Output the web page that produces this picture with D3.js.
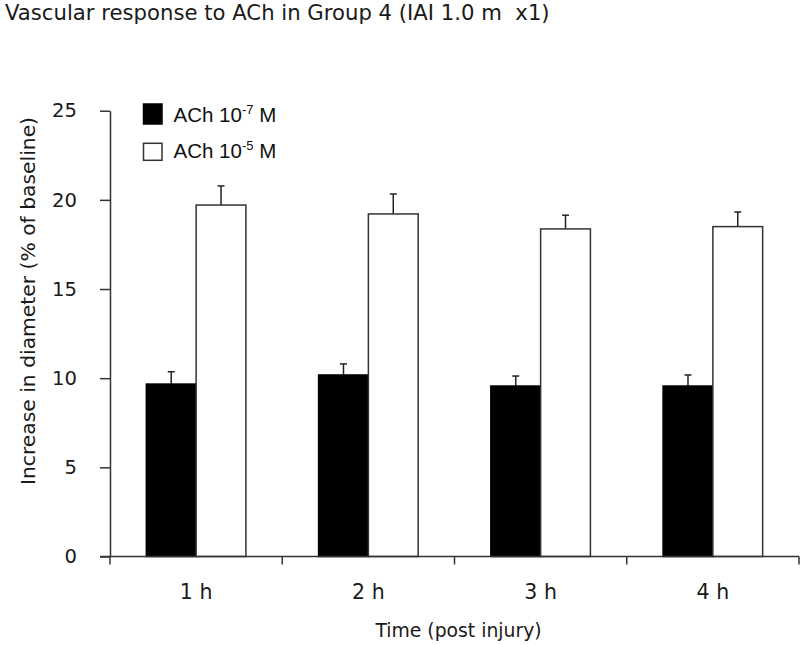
<!DOCTYPE html>
<html>
<head>
<meta charset="utf-8">
<script src="https://cdn.jsdelivr.net/npm/d3@7"></script>
<style>
  html, body { margin: 0; padding: 0; background: #fff; }
  svg { display: block; }
  text { white-space: pre; }
</style>
</head>
<body>
<svg id="chart" width="800" height="645"></svg>
<script>
// ---- data ----
const categories = ["1 h", "2 h", "3 h", "4 h"];
const series = ["ACh 10-7 M", "ACh 10-5 M"];
const seriesExp = ["-7", "-5"];
const ach7 = [9.67, 10.18, 9.56, 9.56];
const ach7Err = [0.69, 0.62, 0.56, 0.62];
const ach5 = [19.71, 19.21, 18.37, 18.5];
const ach5Err = [1.07, 1.12, 0.77, 0.82];
const yTicks = [0, 5, 10, 15, 20, 25];
const titleText = "Vascular response to ACh in Group 4 (IAI 1.0 m  x1)";
const yLabel = "Increase in diameter (% of baseline)";
const xLabel = "Time (post injury)";

const values = [ach7, ach5];
const errors = [ach7Err, ach5Err];
const fills = ["#000000", "#ffffff"];

const svg = d3.select("#chart");
const mainFont = "'DejaVu Sans', 'Open Sans', sans-serif";
const arial = "'Liberation Sans', Arial, sans-serif";
const ink = "#1a1a1a";

const x0 = d3.scaleBand().domain(categories).range([110, 799]).paddingInner(0).paddingOuter(0);
const x1 = d3.scaleBand().domain(series).range([0, x0.bandwidth()]).paddingInner(0).paddingOuter(0.73);
const y = d3.scaleLinear().domain([0, 25]).range([556.5, 110.7]);

// title
svg.append("text").attr("x", 5).attr("y", 20)
  .attr("font-family", mainFont).attr("font-size", 21.2).attr("fill", ink)
  .text(titleText);

// bars
series.forEach((s, si) => {
  const g = svg.append("g");
  categories.forEach((c, ci) => {
    const v = values[si][ci], e = errors[si][ci];
    const bx = x0(c) + x1(s), bw = x1.bandwidth();
    const cx = bx + bw / 2;
    g.append("line").attr("x1", cx).attr("x2", cx)
      .attr("y1", y(v)).attr("y2", y(v + e))
      .attr("stroke", "#222").attr("stroke-width", 1.5);
    g.append("line").attr("x1", cx - 3.5).attr("x2", cx + 3.5)
      .attr("y1", y(v + e)).attr("y2", y(v + e))
      .attr("stroke", "#222").attr("stroke-width", 1.5);
    g.append("rect").attr("x", bx).attr("y", y(v))
      .attr("width", bw).attr("height", y(0) - y(v))
      .attr("fill", fills[si])
      .attr("stroke", si === 0 ? "#000" : "#333").attr("stroke-width", 1.5);
  });
});

// y axis
const yAxis = d3.axisLeft(y).tickValues(yTicks).tickSize(10).tickSizeOuter(0).tickPadding(23);
const yg = svg.append("g").attr("transform", "translate(110,0)").call(yAxis);
yg.select(".domain").attr("stroke", "#333").attr("stroke-width", 1.5);
yg.selectAll(".tick line").attr("stroke", "#333").attr("stroke-width", 1.5);
yg.selectAll(".tick text").attr("font-family", mainFont).attr("font-size", 19.6).attr("fill", ink);

// x axis line + boundary ticks
const xg = svg.append("g");
xg.append("line").attr("x1", 100).attr("x2", x0.range()[1])
  .attr("y1", y(0)).attr("y2", y(0)).attr("stroke", "#333").attr("stroke-width", 1.5);
const bounds = categories.map(c => x0(c)).concat([x0(categories[categories.length - 1]) + x0.bandwidth()]);
xg.selectAll(".xt").data(bounds).enter().append("line")
  .attr("x1", d => d).attr("x2", d => d)
  .attr("y1", y(0)).attr("y2", y(0) + 8)
  .attr("stroke", "#333").attr("stroke-width", 1.5);
xg.selectAll(".xl").data(categories).enter().append("text")
  .attr("x", d => x0(d) + x0.bandwidth() / 2).attr("y", 599)
  .attr("text-anchor", "middle")
  .attr("font-family", mainFont).attr("font-size", 20.5).attr("fill", ink)
  .text(d => d);

// axis titles
svg.append("text").attr("x", 458.5).attr("y", 637).attr("text-anchor", "middle")
  .attr("font-family", mainFont).attr("font-size", 18.8).attr("fill", ink)
  .text(xLabel);
svg.append("text").attr("transform", "translate(35,301) rotate(-90)").attr("text-anchor", "middle")
  .attr("font-family", mainFont).attr("font-size", 20.3).attr("fill", ink)
  .text(yLabel);

// legend
const leg = svg.append("g");
const legRowY = [104, 140];
series.forEach((s, si) => {
  const ly = legRowY[si];
  leg.append("rect").attr("x", 143.5).attr("y", si === 0 ? ly : ly + 3.3).attr("width", 18.5).attr("height", si === 0 ? 20 : 17)
    .attr("fill", fills[si]).attr("stroke", si === 0 ? "#000" : "#333").attr("stroke-width", 1.5);
  const t = leg.append("text").attr("x", 173.5).attr("y", ly + 17.5)
    .attr("font-family", arial).attr("font-size", 20.5).attr("fill", "#111");
  t.append("tspan").text("ACh 10");
  t.append("tspan").attr("dy", -8).attr("font-size", 13).text(seriesExp[si]);
  t.append("tspan").attr("dy", 8).text(" M");
});
</script>
</body>
</html>
